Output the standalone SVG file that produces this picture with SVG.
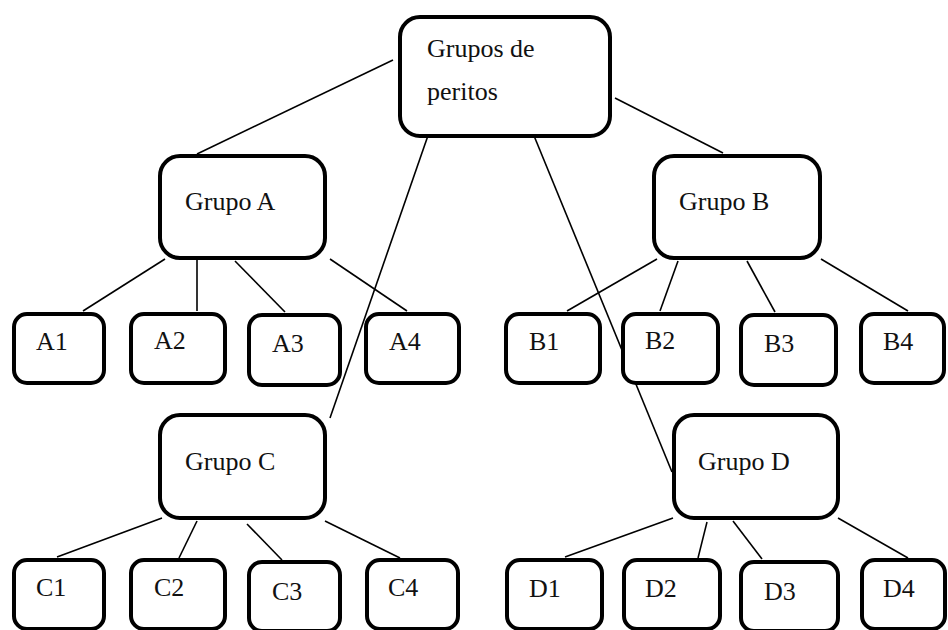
<svg xmlns="http://www.w3.org/2000/svg" width="948" height="630" viewBox="0 0 948 630">
  <style>
    .box { fill: #fff; stroke: #000; stroke-width: 4; }
    .big { rx: 20px; ry: 20px; }
    .small { rx: 13px; ry: 13px; }
    text { font-family: 'Liberation Serif', 'Times New Roman', serif; font-size: 26px; fill: #111; }
    #connectors line { stroke: #000; stroke-width: 1.6; }
  </style>
  <rect width="948" height="630" fill="#fff"/>

  <g id="connectors">
    <!-- root to group nodes -->
    <line x1="393" y1="60" x2="197" y2="154"/>
    <line x1="615" y1="98" x2="723" y2="153"/>
    <line x1="432" y1="124" x2="330" y2="418"/>
    <line x1="530" y1="126" x2="672" y2="472"/>
    <!-- Grupo A -->
    <line x1="165" y1="259" x2="83" y2="311"/>
    <line x1="197" y1="260" x2="197" y2="311"/>
    <line x1="235" y1="261" x2="285" y2="312"/>
    <line x1="330" y1="259" x2="407" y2="311"/>
    <!-- Grupo B -->
    <line x1="657" y1="259" x2="567" y2="311"/>
    <line x1="678" y1="261" x2="660" y2="311"/>
    <line x1="747" y1="261" x2="775" y2="312"/>
    <line x1="821" y1="259" x2="908" y2="311"/>
    <!-- Grupo C -->
    <line x1="162" y1="518" x2="57" y2="557"/>
    <line x1="197" y1="521" x2="179" y2="558"/>
    <line x1="247" y1="524" x2="282" y2="560"/>
    <line x1="325" y1="521" x2="400" y2="558"/>
    <!-- Grupo D -->
    <line x1="673" y1="518" x2="565" y2="557"/>
    <line x1="707" y1="522" x2="698" y2="558"/>
    <line x1="733" y1="521" x2="762" y2="559"/>
    <line x1="838" y1="518" x2="908" y2="558"/>
  </g>

  <g id="root">
    <rect class="box big" x="400" y="17" width="210" height="119"/>
    <text x="427" y="57">Grupos de</text>
    <text x="427" y="100">peritos</text>
  </g>

  <g id="grupo-a">
    <rect class="box big" x="160" y="156" width="165" height="102"/>
    <text x="185" y="210">Grupo A</text>
  </g>
  <g id="grupo-b">
    <rect class="box big" x="654" y="156" width="166" height="102"/>
    <text x="679" y="210">Grupo B</text>
  </g>
  <g id="grupo-c">
    <rect class="box big" x="160" y="415" width="165" height="103"/>
    <text x="185" y="470">Grupo C</text>
  </g>
  <g id="grupo-d">
    <rect class="box big" x="674" y="415" width="164" height="103"/>
    <text x="698" y="470">Grupo D</text>
  </g>

  <g id="a1"><rect class="box small" x="14" y="314" width="90" height="69"/><text x="36" y="350">A1</text></g>
  <g id="a2"><rect class="box small" x="131" y="314" width="94" height="69"/><text x="154" y="349">A2</text></g>
  <g id="a3"><rect class="box small" x="249" y="315" width="91" height="70"/><text x="272" y="352">A3</text></g>
  <g id="a4"><rect class="box small" x="366" y="314" width="93" height="69"/><text x="389" y="350">A4</text></g>

  <g id="b1"><rect class="box small" x="506" y="314" width="94" height="69"/><text x="529" y="350">B1</text></g>
  <g id="b2"><rect class="box small" x="623" y="314" width="95" height="69"/><text x="645" y="349">B2</text></g>
  <g id="b3"><rect class="box small" x="741" y="315" width="95" height="70"/><text x="764" y="352">B3</text></g>
  <g id="b4"><rect class="box small" x="861" y="314" width="83" height="69"/><text x="883" y="350">B4</text></g>

  <g id="c1"><rect class="box small" x="14" y="560" width="90" height="69"/><text x="36" y="596">C1</text></g>
  <g id="c2"><rect class="box small" x="131" y="560" width="94" height="69"/><text x="154" y="596">C2</text></g>
  <g id="c3"><rect class="box small" x="249" y="562" width="91" height="69"/><text x="272" y="600">C3</text></g>
  <g id="c4"><rect class="box small" x="367" y="560" width="91" height="69"/><text x="388" y="596">C4</text></g>

  <g id="d1"><rect class="box small" x="507" y="560" width="95" height="69"/><text x="529" y="597">D1</text></g>
  <g id="d2"><rect class="box small" x="624" y="560" width="96" height="69"/><text x="645" y="597">D2</text></g>
  <g id="d3"><rect class="box small" x="741" y="562" width="97" height="69"/><text x="764" y="600">D3</text></g>
  <g id="d4"><rect class="box small" x="862" y="560" width="83" height="69"/><text x="883" y="597">D4</text></g>
</svg>
